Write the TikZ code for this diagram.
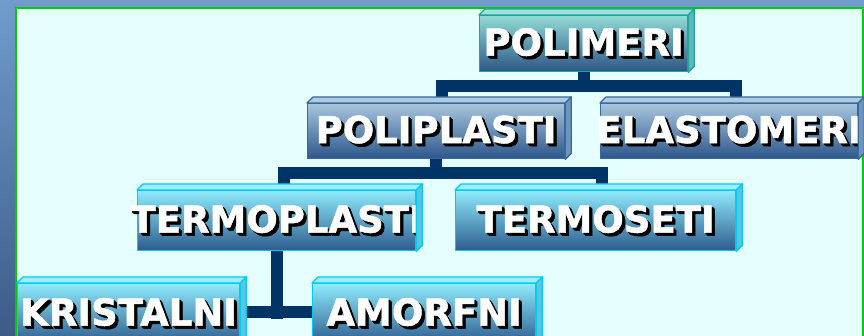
\documentclass[tikz,border=0pt]{standalone}
\usepackage{fontspec}
\setmainfont{DejaVu Sans}
\newfontfamily\heavy{DejaVu Sans}[BoldFeatures={FakeBold=1.3}]
\usetikzlibrary{calc}
\pgfdeclarelayer{back}
\pgfdeclarelayer{mid}
\pgfsetlayers{back,mid,main}
\definecolor{outerA}{HTML}{709CCB}
\definecolor{outerB}{HTML}{3C5B87}
\definecolor{innerbg}{HTML}{E5FFFF}
\definecolor{greenline}{HTML}{00CC00}
\definecolor{navy}{HTML}{003366}
\definecolor{tealT}{HTML}{92DAD6}
\definecolor{tealB}{HTML}{2C5686}
\definecolor{tealE}{HTML}{1FA39B}
\definecolor{tealS}{HTML}{5DB6B6}
\definecolor{blueT}{HTML}{A6C5DE}
\definecolor{blueB}{HTML}{2D578A}
\definecolor{blueE}{HTML}{3A6898}
\definecolor{blueS}{HTML}{6E95BE}
\definecolor{cyanT}{HTML}{8EEAFC}
\definecolor{cyanB}{HTML}{2D5C8E}
\definecolor{cyanE}{HTML}{00CCF2}
\definecolor{cyanS}{HTML}{5EC3DE}
\newcommand\shtxt[1]{\makebox[0pt]{\rlap{\hspace{1.5pt}\raisebox{-1.5pt}{\color{black}#1}}\rlap{\hspace{3.2pt}\raisebox{-3.2pt}{\color{black}#1}}\rlap{\hspace{2.4pt}\raisebox{-2.4pt}{\color{black}#1}}\color{white}#1}}
\tikzset{
  boxbase/.style={anchor=north west, inner sep=0pt, line width=1.3pt,
    font=\fontsize{37}{37}\heavy\bfseries},
  tealfront/.style={boxbase, draw=tealE, top color=tealT, bottom color=tealB},
  tealtop/.style={draw=tealE, fill=tealT!85!white, line width=1.3pt, line join=round},
  tealside/.style={draw=tealE, fill=tealS, line width=1.3pt, line join=round},
  bluefront/.style={boxbase, draw=blueE, top color=blueT, bottom color=blueB},
  bluetop/.style={draw=blueE, fill=blueT!90!white, line width=1.3pt, line join=round},
  blueside/.style={draw=blueE, fill=blueS, line width=1.3pt, line join=round},
  cyanfront/.style={boxbase, draw=cyanE, top color=cyanT, bottom color=cyanB},
  cyantop/.style={draw=cyanE, fill=cyanT!85!white, line width=1.3pt, line join=round},
  cyanside/.style={draw=cyanE, fill=cyanS, line width=1.3pt, line join=round},
  conn/.style={draw=navy, line width=12pt, line join=miter}
}
\newcommand\cube[7]{%
  \node[#1front, minimum width=#5pt, minimum height=#6pt] (#2) at (#3,#4) {\shtxt{#7}};
  \filldraw[#1top] (#2.north west) -- ++(6,-6) -- ($(#2.north east)+(6pt,6pt)$) -- (#2.north east) -- cycle;
  \filldraw[#1side] (#2.north east) -- ++(6,-6) -- ($(#2.south east)+(6pt,6pt)$) -- (#2.south east) -- cycle;
}
\begin{document}
\begin{tikzpicture}[x=1pt, y=-1pt]
\useasboundingbox (0,0) rectangle (864,336);
\begin{pgfonlayer}{back}
  \shade[top color=outerA, bottom color=outerB] (0,0) rectangle (864,336);
  \filldraw[fill=innerbg, draw=greenline, line width=2pt] (16,8) rectangle (863,345);
\end{pgfonlayer}

\cube{teal}{polimeri}{479}{15}{208}{56}{POLIMERI}
\cube{blue}{poliplasti}{307}{103}{257}{55}{POLIPLASTI}
\cube{blue}{elastomeri}{600}{103}{257}{55}{ELASTOMERI}
\cube{cyan}{termoplasti}{137}{190}{278}{60}{TERMOPLASTI}
\cube{cyan}{termoseti}{455}{190}{280}{60}{TERMOSETI}
\cube{cyan}{kristalni}{17}{283}{222}{60}{KRISTALNI}
\cube{cyan}{amorfni}{312}{283}{223}{60}{AMORFNI}

\begin{pgfonlayer}{mid}
  \draw[conn] (polimeri.south) -- ++(0,15);
  \draw[conn] ([xshift=5.5pt]poliplasti.north) -- ++(0,-17) -| ([xshift=7pt]elastomeri.north);
  \draw[conn] (poliplasti.south) -- ++(0,15);
  \draw[conn] ([xshift=7pt]termoplasti.north) -- ++(0,-17) -| ([xshift=6pt]termoseti.north);
  \draw[conn] (termoplasti.south) -- ++(0,68);
  \draw[conn] ([yshift=-29pt]kristalni.north east) -- ([yshift=-29pt]amorfni.north west);
\end{pgfonlayer}
\end{tikzpicture}
\end{document}
